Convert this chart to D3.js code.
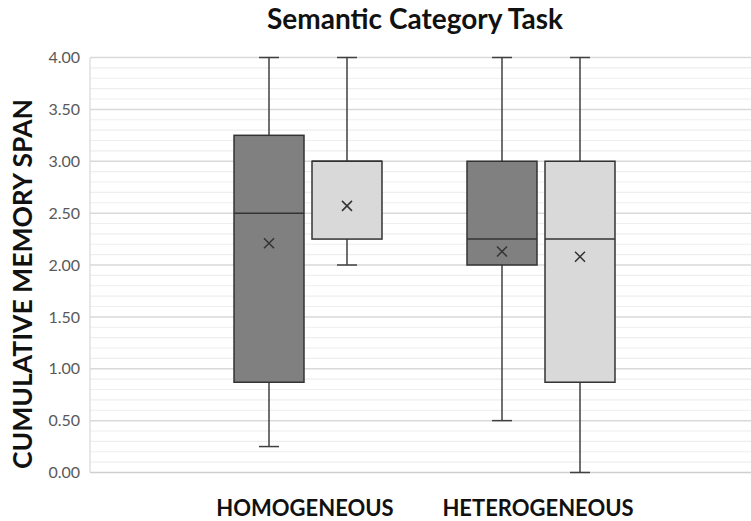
<!DOCTYPE html>
<html>
<head>
<meta charset="utf-8">
<script src="https://cdn.jsdelivr.net/npm/d3@7"></script>
<style>
  body { margin: 0; background: #fff; }
  text { font-family: Lato, "Open Sans", sans-serif; }
</style>
</head>
<body>
<div id="chart"></div>
<script>
// box statistics
const categories = ["HOMOGENEOUS", "HETEROGENEOUS"];
const seriesNames = ["Series 1", "Series 2"];
const seriesFill = ["#808080", "#d9d9d9"];
// each array: [HOMOGENEOUS, HETEROGENEOUS]
const s1Min = [0.25, 0.50], s1Q1 = [0.87, 2.00], s1Median = [2.50, 2.25], s1Q3 = [3.25, 3.00], s1Max = [4.00, 4.00], s1Mean = [2.21, 2.13];
const s2Min = [2.00, 0.00], s2Q1 = [2.25, 0.87], s2Median = [3.00, 2.25], s2Q3 = [3.00, 3.00], s2Max = [4.00, 4.00], s2Mean = [2.57, 2.08];
const yTicks = [0, 0.5, 1, 1.5, 2, 2.5, 3, 3.5, 4];

const W = 751, H = 521;
const margin = { top: 57.5, right: 0, bottom: 48.5, left: 90 };

const boxes = [];
categories.forEach((c, i) => {
  boxes.push({ cat: c, s: 0, min: s1Min[i], q1: s1Q1[i], med: s1Median[i], q3: s1Q3[i], max: s1Max[i], mean: s1Mean[i] });
  boxes.push({ cat: c, s: 1, min: s2Min[i], q1: s2Q1[i], med: s2Median[i], q3: s2Q3[i], max: s2Max[i], mean: s2Mean[i] });
});

const svg = d3.select("#chart").append("svg").attr("width", W).attr("height", H);

const y = d3.scaleLinear().domain([0, 4]).range([H - margin.bottom, margin.top]);
const x = d3.scaleBand().domain(categories).range([191.5, 657.5]);
const xs = d3.scaleBand().domain([0, 1]).range([0, x.bandwidth()])
    .paddingInner(0.1026).paddingOuter(0.545);

// gridlines: minor every 0.1, major every 0.5
const minor = d3.range(1, 40).map(d => d / 10).filter(d => Math.round(d * 10) % 5 !== 0);
svg.append("g").selectAll("line").data(minor).join("line")
    .attr("x1", margin.left).attr("x2", W)
    .attr("y1", d => y(d)).attr("y2", d => y(d))
    .attr("stroke", "#eeeeee").attr("stroke-width", 1.2);
svg.append("g").selectAll("line").data(yTicks).join("line")
    .attr("x1", margin.left).attr("x2", W)
    .attr("y1", d => y(d)).attr("y2", d => y(d))
    .attr("stroke", d => d === 0 ? "#cfcfcf" : "#d9d9d9").attr("stroke-width", 1.5);
svg.append("line").attr("x1", margin.left).attr("x2", margin.left)
    .attr("y1", y(4)).attr("y2", y(0)).attr("stroke", "#d9d9d9").attr("stroke-width", 1.2);

// y axis labels
const yAxis = d3.axisLeft(y).tickValues(yTicks).tickFormat(d3.format(".2f")).tickSize(0).tickPadding(10);
const yg = svg.append("g").attr("transform", `translate(${margin.left},0)`).call(yAxis);
yg.select(".domain").remove();
yg.selectAll("text").attr("font-size", 16).attr("fill", "#595959").style("font-family", "Lato");

// boxes
const g = svg.append("g").selectAll("g").data(boxes).join("g")
    .attr("transform", d => `translate(${x(d.cat) + xs(d.s)},0)`);
const bw = xs.bandwidth();
const ink = "#404040";
g.append("line").attr("x1", bw / 2).attr("x2", bw / 2)
    .attr("y1", d => y(d.max)).attr("y2", d => y(d.q3)).attr("stroke", ink).attr("stroke-width", 1.5);
g.append("line").attr("x1", bw / 2).attr("x2", bw / 2)
    .attr("y1", d => y(d.q1)).attr("y2", d => y(d.min)).attr("stroke", ink).attr("stroke-width", 1.5);
g.append("line").attr("x1", bw / 2 - 10).attr("x2", bw / 2 + 10)
    .attr("y1", d => y(d.max)).attr("y2", d => y(d.max)).attr("stroke", ink).attr("stroke-width", 1.5);
g.append("line").attr("x1", bw / 2 - 10).attr("x2", bw / 2 + 10)
    .attr("y1", d => y(d.min)).attr("y2", d => y(d.min)).attr("stroke", ink).attr("stroke-width", 1.5);
g.append("rect").attr("x", 0).attr("width", bw)
    .attr("y", d => y(d.q3)).attr("height", d => y(d.q1) - y(d.q3))
    .attr("fill", d => seriesFill[d.s]).attr("stroke", "#333").attr("stroke-width", 1.5);
g.append("line").attr("x1", 0).attr("x2", bw)
    .attr("y1", d => y(d.med)).attr("y2", d => y(d.med)).attr("stroke", "#333").attr("stroke-width", 1.5);
g.append("path")
    .attr("d", d => { const cx = bw / 2, cy = y(d.mean), r = 5;
      return `M${cx - r},${cy - r}L${cx + r},${cy + r}M${cx - r},${cy + r}L${cx + r},${cy - r}`; })
    .attr("stroke", "#333").attr("stroke-width", 1.5).attr("fill", "none");

// category labels
svg.append("g").selectAll("text").data(categories).join("text")
    .attr("x", d => x(d) + x.bandwidth() / 2 - 3).attr("y", 516)
    .attr("text-anchor", "middle").attr("font-size", 22).attr("font-weight", "bold")
    .attr("fill", "#111").text(d => d);

// titles
svg.append("text").attr("x", 415).attr("y", 29).attr("text-anchor", "middle")
    .attr("font-size", 28).attr("font-weight", "bold").attr("fill", "#111")
    .text("Semantic Category Task");
svg.append("text").attr("transform", "translate(32,284) rotate(-90)")
    .attr("text-anchor", "middle").attr("font-size", 26.5).attr("font-weight", "bold")
    .attr("fill", "#111").text("CUMULATIVE MEMORY SPAN");
</script>
</body>
</html>
